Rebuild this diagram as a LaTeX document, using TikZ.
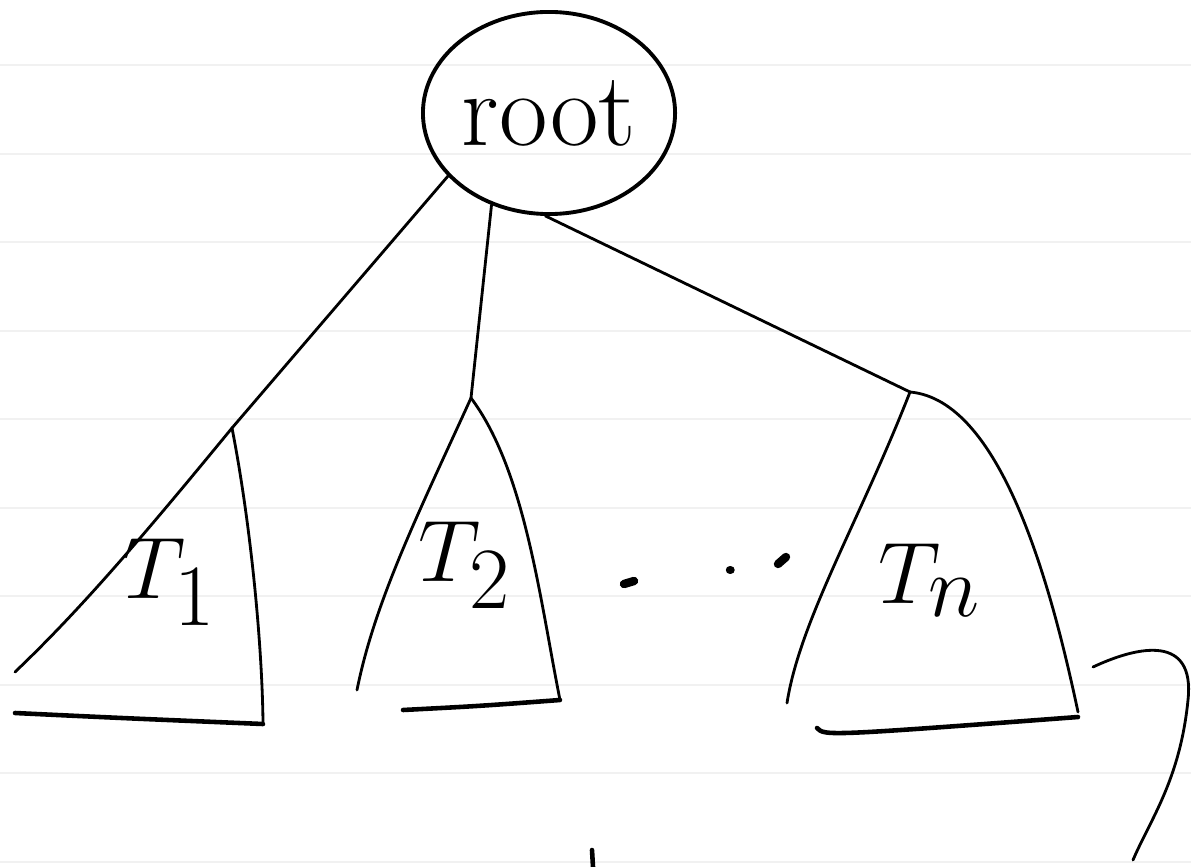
\documentclass[tikz,border=0pt]{standalone}
\usetikzlibrary{shapes.geometric}
\definecolor{ruled}{RGB}{241,241,241}
\begin{document}
\begin{tikzpicture}[x=0.01cm,y=-0.01cm,
  pen/.style={line width=0.8pt,line cap=round,line join=round},
  bold pen/.style={line width=1.3pt,line cap=round,line join=round},
  dot/.style={line width=2.4pt,line cap=round},
  rootnode/.style={ellipse,draw,line width=1.1pt,minimum width=2.52cm,minimum height=2.02cm,inner sep=0pt,font=\fontsize{30}{36}\selectfont},
  label/.style={font=\fontsize{40}{44}\selectfont}]
\useasboundingbox (0,0) rectangle (1191,867);
\foreach \y in {65,154,242,331,419,508,596,685,773,862}
  \draw[ruled,line width=0.8pt] (0,\y) -- (1191,\y);
\node[rootnode] (root) at (549,113) {root};
\coordinate (t1top) at (232,428);
\coordinate (t2top) at (471,398);
\coordinate (tntop) at (910,392);
\draw[pen] (root.212) -- (t1top);
\draw[pen] (root.238) -- (t2top);
\draw[pen] (root.268) -- (tntop);
\draw[pen] (t1top) .. controls (140,540) and (80,610) .. (15,672);
\draw[pen] (t1top) .. controls (250,520) and (262,640) .. (263,722);
\draw[bold pen] (15,713) .. controls (120,718) .. (263,724);
\draw[pen] (t2top) .. controls (420,510) and (375,600) .. (357,690);
\draw[pen] (t2top) .. controls (525,470) and (540,600) .. (560,700);
\draw[bold pen] (403,710) .. controls (480,706) .. (560,700);
\draw[pen] (tntop) .. controls (860,520) and (800,620) .. (787,703);
\draw[pen] (tntop) .. controls (1000,400) and (1050,580) .. (1078,712);
\draw[bold pen] (817,728) .. controls (825,736) .. (1078,717);
\node[label] (t1) at (170,582) {$T_1$};
\node[label] (t2) at (465,565) {$T_2$};
\node[label] (tn) at (930,580) {$T_n$};
\draw[dot] (624,584) -- (634,581);
\draw[dot] (730,570) -- (730.5,570);
\draw[dot] (778,564) -- (786,557);
\draw[pen] (1093,667) .. controls (1140,645) and (1195,635) .. (1188,700) .. controls (1180,780) and (1150,820) .. (1133,860);
\draw[bold pen] (592,850) -- (593,867);
\end{tikzpicture}
\end{document}
